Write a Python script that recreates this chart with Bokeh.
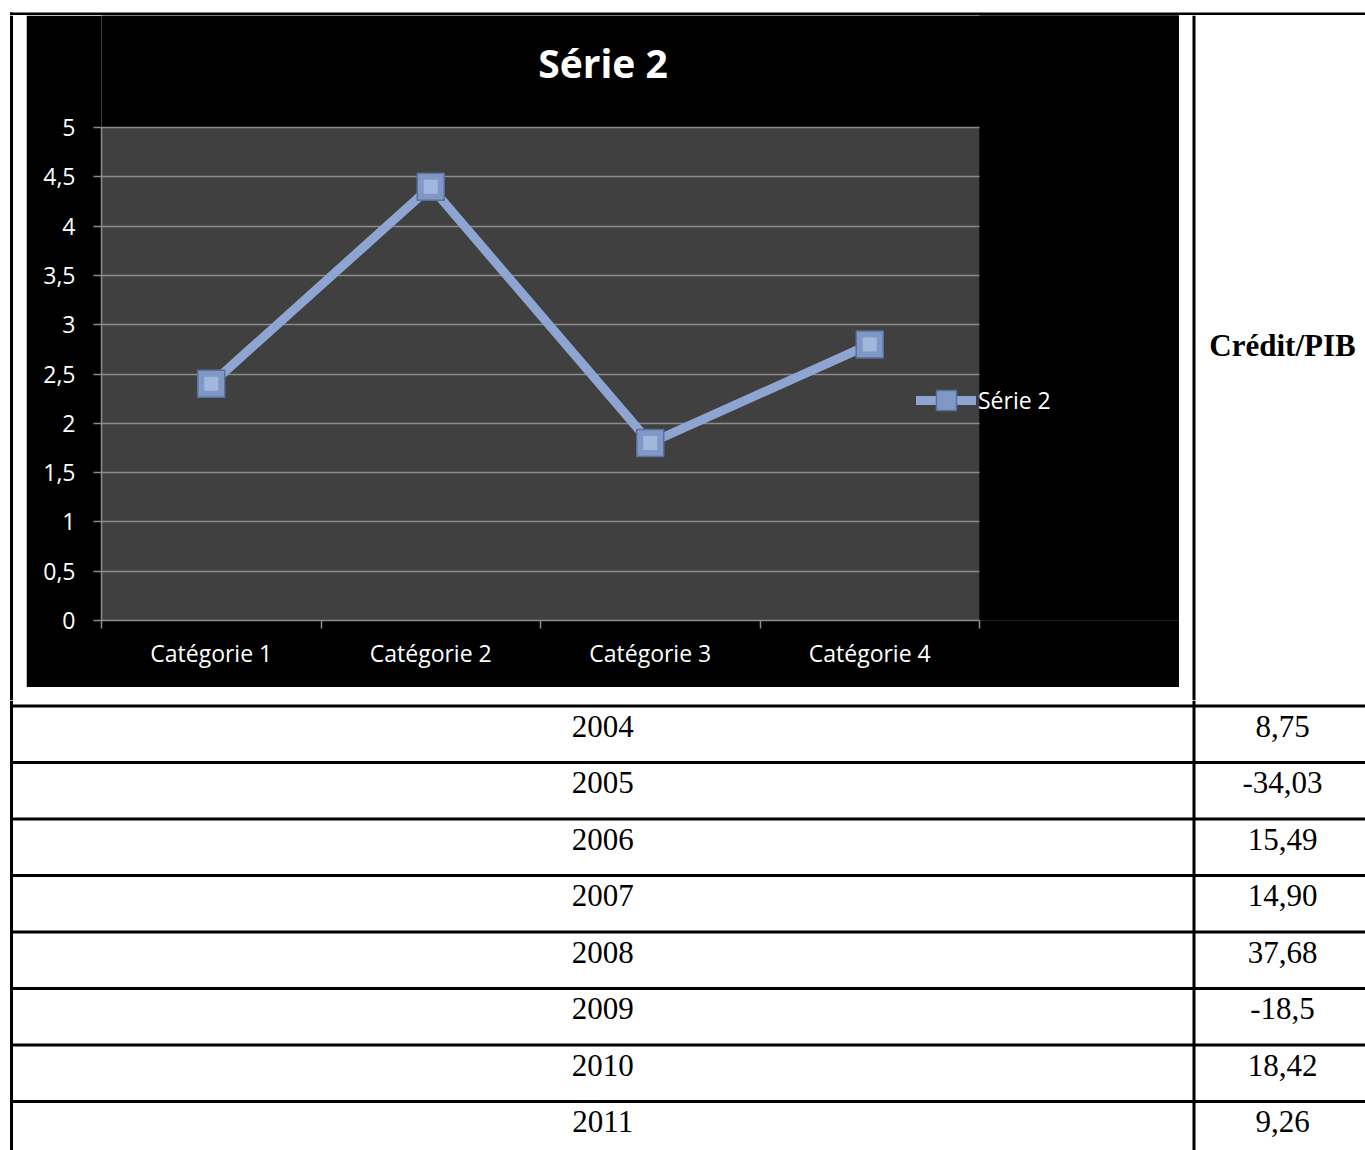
from bokeh.plotting import figure
from bokeh.layouts import row, column
from bokeh.models import Range1d, FixedTicker, Legend, LegendItem, ColumnDataSource, Label
from bokeh.core.properties import value
from bokeh.embed import file_html
from bokeh.resources import INLINE

# ---------------- data ----------------
chart_title = "Série 2"
series_name = "Série 2"
categories = ["Catégorie 1", "Catégorie 2", "Catégorie 3", "Catégorie 4"]
serie2 = [2.4, 4.4, 1.8, 2.8]
y_ticks = [0, 0.5, 1, 1.5, 2, 2.5, 3, 3.5, 4, 4.5, 5]
y_tick_labels = ["0", "0,5", "1", "1,5", "2", "2,5", "3", "3,5", "4", "4,5", "5"]

column_header = "Crédit/PIB"
years = ["2004", "2005", "2006", "2007", "2008", "2009", "2010", "2011"]
credit_pib = ["8,75", "-34,03", "15,49", "14,90", "37,68", "-18,5", "18,42", "9,26"]

# ---------------- styles ----------------
FONT = "Open Sans"
SERIF = "Liberation Serif"
LINE_BLUE = "#8ea5d1"
GRID = "#8c8c8c"
PLOT_BG = "#404040"
RULE_W = 3

PAGE_W, PAGE_H = 1365, 1150
STRIP_H = 15
TOP_H = 700
LEFT_W = 26
CHART_W = 1153
RIGHT_W = PAGE_W - LEFT_W - CHART_W
CHART_H = 672
BOT_H = TOP_H - STRIP_H - CHART_H
TABLE_LEFT = 11
DIVIDER_X = 1193.5
RULE_Y = 13.5
ROW_TOP = 705.5
ROW_H = 56.5

FRAME_L, FRAME_B = 75, 67
PLOT_W, PLOT_H = 878, 493      # grey plot area size in px
Y_MAX = 5


def blank(w, h, x0, x1, y0, y1, bg="white"):
    p = figure(width=w, height=h, x_range=Range1d(x0, x1), y_range=Range1d(y1, y0),
               toolbar_location=None, output_backend="svg", min_border=0,
               x_axis_location=None, y_axis_location=None)
    p.grid.visible = False
    p.outline_line_color = None
    p.background_fill_color = bg
    p.border_fill_color = bg
    return p


# ---------- top strip with the table's top rule ----------
top = blank(PAGE_W, STRIP_H, 0, PAGE_W, 0, STRIP_H)
top.segment(x0=[TABLE_LEFT - 1.5, TABLE_LEFT], y0=[RULE_Y, RULE_Y - 1.5],
            x1=[PAGE_W, TABLE_LEFT], y1=[RULE_Y, STRIP_H],
            line_color="black", line_width=RULE_W)

# ---------- left gutter ----------
left = blank(LEFT_W, TOP_H - STRIP_H, 0, LEFT_W, STRIP_H, TOP_H)
left.segment(x0=[TABLE_LEFT], y0=[STRIP_H], x1=[TABLE_LEFT], y1=[TOP_H],
             line_color="black", line_width=RULE_W)

# ---------- chart ----------
n_cat = len(categories)
xs = [i + 0.5 for i in range(n_cat)]
src = ColumnDataSource(dict(x=xs, y=serie2))
frame_w = CHART_W - FRAME_L
frame_h = CHART_H - FRAME_B
x_end = n_cat * frame_w / PLOT_W     # room right of the plot area for the legend
y_end = Y_MAX * frame_h / PLOT_H     # room above the plot area for the title

chart = figure(width=CHART_W, height=CHART_H,
               x_range=Range1d(0, x_end), y_range=Range1d(0, y_end),
               toolbar_location=None, output_backend="svg",
               min_border_left=FRAME_L, min_border_right=0,
               min_border_top=0, min_border_bottom=FRAME_B)
chart.background_fill_color = "black"
chart.border_fill_color = "black"
chart.outline_line_color = None

# grey plot area (under the grid)
chart.quad(left=[0], right=[n_cat], bottom=[0], top=[Y_MAX], fill_color=PLOT_BG,
           line_color=None, level="image")

chart.xgrid.visible = False
chart.ygrid.ticker = FixedTicker(ticks=y_ticks)
chart.ygrid.grid_line_color = GRID
chart.ygrid.grid_line_width = 1.5
# black area right of the plot area hides the grid there
chart.quad(left=[n_cat], right=[x_end], bottom=[-1], top=[y_end + 1], fill_color="black",
           line_color=None)

yax = chart.yaxis[0]
yax.bounds = (0, Y_MAX)
yax.ticker = FixedTicker(ticks=y_ticks)
yax.major_label_overrides = {float(t): l for t, l in zip(y_ticks, y_tick_labels)}
yax.axis_line_color = GRID
yax.axis_line_width = 1.5
yax.major_tick_line_color = GRID
yax.major_tick_line_width = 1.5
yax.major_tick_out = 8
yax.major_tick_in = 0
yax.minor_tick_line_color = None
yax.major_label_standoff = 18
yax.major_label_text_color = "white"
yax.major_label_text_font = FONT
yax.major_label_text_font_size = "23px"

xax = chart.xaxis[0]
xax.bounds = (0, n_cat)
xax.ticker = FixedTicker(ticks=xs, minor_ticks=list(range(n_cat + 1)))
xax.major_label_overrides = {float(x): c for x, c in zip(xs, categories)}
xax.axis_line_color = GRID
xax.axis_line_width = 1.5
xax.major_tick_line_color = None
xax.major_tick_out = 0
xax.major_tick_in = 0
xax.minor_tick_line_color = GRID
xax.minor_tick_line_width = 1.5
xax.minor_tick_out = 8
xax.minor_tick_in = 0
xax.major_label_standoff = 8
xax.major_label_text_color = "white"
xax.major_label_text_font = FONT
xax.major_label_text_font_size = "23px"

line_r = chart.line("x", "y", source=src, line_color=LINE_BLUE, line_width=9,
                    line_join="round", line_cap="round")
sq_r = chart.scatter("x", "y", source=src, marker="square", size=27,
                     fill_color="#8098c6", line_color="#5a6f9a", line_width=1.5)
inner_r = chart.scatter("x", "y", source=src, marker="square", size=14,
                        fill_color="#a3b6dc", line_color=None)

legend = Legend(items=[LegendItem(label=series_name, renderers=[line_r, sq_r])],
                location=(815, 195), orientation="vertical",
                padding=0, margin=0, spacing=0,
                glyph_width=60, glyph_height=50, label_standoff=2,
                border_line_color=None, background_fill_alpha=0,
                label_text_color="white", label_text_font=FONT,
                label_text_font_size="23px")
chart.add_layout(legend, "center")

# chart title, centred over the whole black chart area
title = Label(x=CHART_W / 2 - FRAME_L, y=558, x_units="screen", y_units="screen",
              text=chart_title, text_align="center", text_baseline="alphabetic",
              text_color="white", text_font=FONT, text_font_style="bold",
              text_font_size="39px")
chart.add_layout(title)

# ---------- white strip under the chart ----------
bottom = blank(CHART_W, BOT_H, LEFT_W, LEFT_W + CHART_W, STRIP_H + CHART_H, TOP_H)

# ---------- right header cell ----------
x_c = LEFT_W + CHART_W
right = blank(RIGHT_W, TOP_H - STRIP_H, x_c, PAGE_W, STRIP_H, TOP_H)
right.segment(x0=[DIVIDER_X], y0=[STRIP_H], x1=[DIVIDER_X], y1=[TOP_H],
              line_color="black", line_width=RULE_W)
right.text(x=[1282], y=[345], text=[column_header], text_align="center",
           text_baseline="alphabetic", text_font=value(SERIF), text_font_style="bold",
           text_font_size="31px", text_color="black")

# ---------- table body ----------
n = len(years)
tbl_top = (TOP_H - ROW_TOP) / ROW_H
tbl_bot = (PAGE_H - ROW_TOP) / ROW_H
table = figure(width=PAGE_W, height=PAGE_H - TOP_H,
               x_range=Range1d(0, PAGE_W), y_range=Range1d(tbl_bot, tbl_top),
               toolbar_location=None, output_backend="svg", min_border=0,
               x_axis_location=None, y_axis_location=None)
table.grid.visible = False
table.outline_line_color = None
table.background_fill_color = "white"
table.border_fill_color = "white"

bounds = list(range(n + 1))
table.segment(x0=[TABLE_LEFT - 1.5] * len(bounds), x1=[PAGE_W] * len(bounds),
              y0=bounds, y1=bounds, line_color="black", line_width=RULE_W)
table.segment(x0=[TABLE_LEFT, DIVIDER_X], x1=[TABLE_LEFT, DIVIDER_X],
              y0=[tbl_top, tbl_top], y1=[n + 0.5, n + 0.5],
              line_color="black", line_width=RULE_W)

rows_src = ColumnDataSource(dict(y=[i + 0.36 for i in range(n)], year=years, val=credit_pib))
year_x = (TABLE_LEFT + DIVIDER_X) / 2
val_x = 1282
table.text(x=year_x, y="y", text="year", source=rows_src, text_align="center",
           text_baseline="alphabetic", text_font=value(SERIF), text_font_size="31px",
           text_color="black")
table.text(x=val_x, y="y", text="val", source=rows_src, text_align="center",
           text_baseline="alphabetic", text_font=value(SERIF), text_font_size="31px",
           text_color="black")

layout = column(
    top,
    row(left, column(chart, bottom, spacing=0), right, spacing=0),
    table,
    spacing=0,
)

open("out.html", "w").write(file_html(layout, INLINE))
